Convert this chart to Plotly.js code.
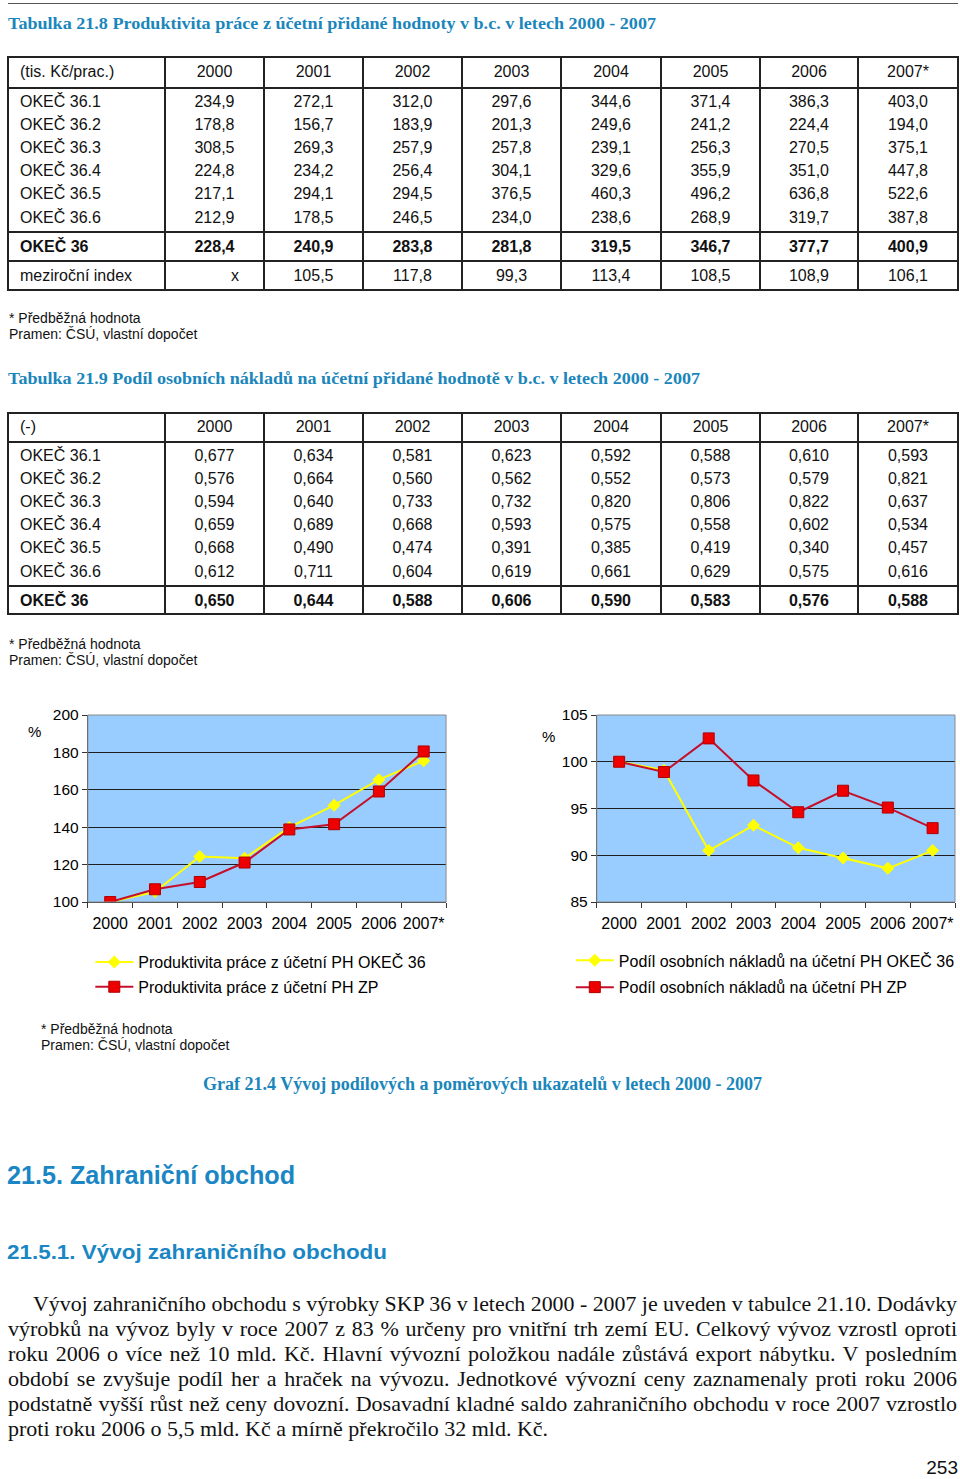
<!DOCTYPE html>
<html><head><meta charset="utf-8">
<script src="https://cdn.plot.ly/plotly-3.0.1.min.js"></script>
<style>
html,body{margin:0;padding:0;background:#fff;}
body{width:960px;height:1479px;position:relative;overflow:hidden;font-family:"Liberation Sans",Arial,sans-serif;color:#111;}
.ab{position:absolute;white-space:nowrap;}
.ln{position:absolute;background:#222;}
.ttl{font-family:"Liberation Serif","Times New Roman",serif;font-weight:bold;color:#1a86bb;font-size:17px;line-height:20px;transform-origin:0 50%;}
.note{font-size:14px;line-height:16px;color:#111;}
.cell{position:absolute;height:20px;line-height:20px;font-size:16px;white-space:nowrap;color:#111;}
.h1{font-weight:bold;color:#1a86c4;font-size:25px;line-height:30px;transform-origin:0 50%;}
.h2{font-weight:bold;color:#1a86c4;font-size:21px;line-height:26px;transform-origin:0 50%;}
.par{font-family:"Liberation Serif","Times New Roman",serif;font-size:22px;line-height:25px;color:#111;transform-origin:0 50%;}
#chart{position:absolute;left:0;top:690px;width:960px;height:320px;}
</style>
</head><body>
<div class="ln" style="left:8px;top:3px;width:950px;height:1px;background:#555"></div>
<div id="chart"></div>
<script>
// ---------- DATA ----------
var years = ['2000','2001','2002','2003','2004','2005','2006','2007*'];
var rowLabels = ['OKEČ 36.1','OKEČ 36.2','OKEČ 36.3','OKEČ 36.4','OKEČ 36.5','OKEČ 36.6'];
var totalLabel = 'OKEČ 36';
var indexLabel = 'meziroční index';

// Tabulka 21.8 (tis. Kč/prac.)
var prod361 = [234.9,272.1,312.0,297.6,344.6,371.4,386.3,403.0];
var prod362 = [178.8,156.7,183.9,201.3,249.6,241.2,224.4,194.0];
var prod363 = [308.5,269.3,257.9,257.8,239.1,256.3,270.5,375.1];
var prod364 = [224.8,234.2,256.4,304.1,329.6,355.9,351.0,447.8];
var prod365 = [217.1,294.1,294.5,376.5,460.3,496.2,636.8,522.6];
var prod366 = [212.9,178.5,246.5,234.0,238.6,268.9,319.7,387.8];
var prodTotal = [228.4,240.9,283.8,281.8,319.5,346.7,377.7,400.9];
var prodIndex = ['x',105.5,117.8,99.3,113.4,108.5,108.9,106.1];

// Tabulka 21.9 (-)
var cost361 = [0.677,0.634,0.581,0.623,0.592,0.588,0.610,0.593];
var cost362 = [0.576,0.664,0.560,0.562,0.552,0.573,0.579,0.821];
var cost363 = [0.594,0.640,0.733,0.732,0.820,0.806,0.822,0.637];
var cost364 = [0.659,0.689,0.668,0.593,0.575,0.558,0.602,0.534];
var cost365 = [0.668,0.490,0.474,0.391,0.385,0.419,0.340,0.457];
var cost366 = [0.612,0.711,0.604,0.619,0.661,0.629,0.575,0.616];
var costTotal = [0.650,0.644,0.588,0.606,0.590,0.583,0.576,0.588];

// Graf 21.4 (%)
var prodOkec36 = [100,105.5,124.3,123.4,139.9,151.8,165.4,175.5];
var prodZP     = [100,106.8,110.7,121.1,138.8,141.6,159.1,180.5];
var costOkec36 = [100,99.1,90.5,93.2,90.8,89.7,88.6,90.5];
var costZP     = [100,98.9,102.5,98.0,94.6,96.9,95.1,92.9];
var legendProd = ['Produktivita práce z účetní PH OKEČ 36','Produktivita práce z účetní PH ZP'];
var legendCost = ['Podíl osobních nákladů na účetní PH OKEČ 36','Podíl osobních nákladů na účetní PH ZP'];

// Texts
var title1 = 'Tabulka 21.8 Produktivita práce z účetní přidané hodnoty v b.c. v letech 2000 - 2007';
var title2 = 'Tabulka 21.9 Podíl osobních nákladů na účetní přidané hodnotě v b.c. v letech 2000 - 2007';
var head1 = '(tis. Kč/prac.)';
var head2 = '(-)';
var note1 = '* Předběžná hodnota';
var note2 = 'Pramen: ČSÚ, vlastní dopočet';
var caption = 'Graf 21.4 Vývoj podílových a poměrových ukazatelů v letech 2000 - 2007';
var heading1 = '21.5. Zahraniční obchod';
var heading2 = '21.5.1. Vývoj zahraničního obchodu';
var paraLines = [
 'Vývoj zahraničního obchodu s výrobky SKP 36 v letech 2000 - 2007 je uveden v tabulce 21.10. Dodávky',
 'výrobků na vývoz byly v roce 2007 z 83 % určeny pro vnitřní trh zemí EU. Celkový vývoz vzrostl oproti',
 'roku 2006 o více než 10 mld. Kč. Hlavní vývozní položkou nadále zůstává export nábytku. V posledním',
 'období se zvyšuje podíl her a hraček na vývozu. Jednotkové vývozní ceny zaznamenaly proti roku 2006',
 'podstatně vyšší růst než ceny dovozní. Dosavadní kladné saldo zahraničního obchodu v roce 2007 vzrostlo',
 'proti roku 2006 o 5,5 mld. Kč a mírně překročilo 32 mld. Kč.'
];
var pageNo = '253';

// ---------- HELPERS ----------
function el(cls, text, left, top, css){
  var d=document.createElement('div'); d.className='ab '+cls; d.textContent=text;
  d.style.left=left+'px'; d.style.top=top+'px'; if(css) d.style.cssText+=css;
  document.body.appendChild(d); return d;
}
function fit(d, target){
  var w=d.getBoundingClientRect().width; if(w>0){ d.style.transform='scaleX('+(target/w)+')'; }
}
function line(x,y,w,h,c){ var d=document.createElement('div'); d.className='ln';
  d.style.left=x+'px'; d.style.top=y+'px'; d.style.width=w+'px'; d.style.height=h+'px'; if(c) d.style.background=c;
  document.body.appendChild(d); }
var colEdges=[8,165,264,363,462,561,661,760,858,958];
function cell(text, j, cy, bold, align){
  var d=document.createElement('div'); d.className='cell'; d.textContent=text;
  var x0=colEdges[j], x1=colEdges[j+1];
  d.style.top=(cy-10)+'px';
  if(align==='left'){ d.style.left=(x0+12)+'px'; }
  else if(align==='right'){ d.style.left=x0+'px'; d.style.width=(x1-x0-25)+'px'; d.style.textAlign='right'; }
  else { d.style.left=x0+'px'; d.style.width=(x1-x0)+'px'; d.style.textAlign='center'; }
  if(bold) d.style.fontWeight='bold';
  document.body.appendChild(d);
}
function fmt(v,dec){ if(typeof v==='string') return v; return v.toFixed(dec).replace('.',','); }
function buildTable(top,bottom,hlines,rows,dec){
  hlines.forEach(function(y){ line(8,y-1,950,2.2); });
  colEdges.forEach(function(x,i){ var w=(i===0||i===colEdges.length-1)?2:1.5; line(x-w/2,top-1,w,bottom-top+2.2); });
  rows.forEach(function(r){
    cell(r.label,0,r.cy,r.bold,'left');
    r.vals.forEach(function(v,j){ cell(fmt(v,dec),j+1,r.cy,r.bold,(v==='x')?'right':'center'); });
  });
}

// ---------- TABLE 21.8 ----------
var tt1=el('ttl',title1,8,14);
var t1body=[prod361,prod362,prod363,prod364,prod365,prod366];
var rows1=[{label:head1,vals:years,cy:72}];
t1body.forEach(function(a,i){ rows1.push({label:rowLabels[i],vals:a,cy:101.5+i*23.2}); });
rows1.push({label:totalLabel,vals:prodTotal,cy:246.5,bold:true});
rows1.push({label:indexLabel,vals:prodIndex,cy:275.5});
buildTable(57,290,[57,88,232,261,290],rows1,1);
el('note',note1,9,310); el('note',note2,9,326);

// ---------- TABLE 21.9 ----------
var tt2=el('ttl',title2,8,369);
var t2body=[cost361,cost362,cost363,cost364,cost365,cost366];
var rows2=[{label:head2,vals:years,cy:427}];
t2body.forEach(function(a,i){ rows2.push({label:rowLabels[i],vals:a,cy:455.5+i*23.2}); });
rows2.push({label:totalLabel,vals:costTotal,cy:600.5,bold:true});
buildTable(413,614,[413,442,586,614],rows2,3);
el('note',note1,9,636); el('note',note2,9,652);

// ---------- notes + caption + headings ----------
el('note',note1,41,1021); el('note',note2,41,1037);
var cap=el('ttl',caption,203,1073,'font-size:18px;line-height:22px;');
fit(tt1,648); fit(tt2,692); fit(cap,559);
var hh1=el('h1',heading1,7,1160); fit(hh1,288);
var hh2=el('h2',heading2,7,1239); fit(hh2,380);

// paragraph
paraLines.forEach(function(s,i){
  var left=(i===0)?33:8, target=957-left;
  var d=el('par',s,left,1290.5+i*25);
  if(i<paraLines.length-1){
    var w=d.getBoundingClientRect().width;
    var spaces=(s.match(/ /g)||[]).length;
    if(w<target){ d.style.wordSpacing=((target-w)/spaces)+'px'; }
    else { d.style.transform='scaleX('+(target/w)+')'; }
  }
});
el('',pageNo,0,1456,'font-size:19px;line-height:24px;width:958px;text-align:right;color:#111;');

// ---------- CHART ----------
var F='Liberation Sans, Arial, sans-serif';
function xax(dom,anchor){ return {domain:dom,anchor:anchor,type:'category',range:[-0.5,7.5],tickson:'boundaries',
  ticks:'outside',ticklen:5,tickcolor:'#333',tickwidth:1,showline:true,linecolor:'#333',linewidth:1,showgrid:false,
  zeroline:false,tickangle:0,tickfont:{family:F,size:16,color:'#000'},ticklabelstandoff:7,fixedrange:true}; }
function yax(range,dtick,anchor){ return {domain:[0.3375,0.921875],anchor:anchor,range:range,dtick:dtick,
  ticks:'outside',ticklen:5,tickcolor:'#333',tickwidth:1,showline:true,linecolor:'#333',linewidth:1,
  showgrid:true,gridcolor:'#1e1e1e',gridwidth:1,zeroline:false,tickfont:{family:F,size:15.5,color:'#000'},fixedrange:true}; }
var yel='#ffff00', redL='#c4102a', redM='#ee0000';
function tr(y,name,isRed,xa,ya,lg,grp){
  return {x:years,y:y,name:name,type:'scatter',mode:'lines+markers',xaxis:xa,yaxis:ya,legend:lg,legendgroup:grp,
    line:{color:isRed?redL:yel,width:2},
    marker:isRed?{symbol:'square',size:11,color:redM,line:{color:'#b00000',width:1}}:{symbol:'diamond',size:10,color:yel}};
}
var data=[
  tr(prodOkec36,legendProd[0],false,'x','y','legend','g1'),
  tr(prodZP,legendProd[1],true,'x','y','legend','g2'),
  tr(costOkec36,legendCost[0],false,'x2','y2','legend2','g3'),
  tr(costZP,legendCost[1],true,'x2','y2','legend2','g4')
];
var lgBase={xanchor:'left',yanchor:'top',bgcolor:'rgba(0,0,0,0)',font:{family:F,size:16,color:'#000'},itemwidth:38,traceorder:'grouped'};
var layout={
  width:960,height:320,margin:{l:0,r:0,t:0,b:0},paper_bgcolor:'rgba(0,0,0,0)',plot_bgcolor:'#99ccff',
  xaxis:xax([88/960,447/960],'y'), yaxis:yax([100,200],20,'x'),
  xaxis2:xax([598/960,957/960],'y2'), yaxis2:yax([85,105],5,'x2'),
  showlegend:true,
  legend:Object.assign({},lgBase,{x:90.5/960,y:0.203,tracegroupgap:1}),
  legend2:Object.assign({},lgBase,{x:572/960,y:0.208,tracegroupgap:3}),
  annotations:[
    {text:'%',xref:'paper',yref:'paper',x:35/960,y:1-42/320,xanchor:'center',yanchor:'middle',showarrow:false,font:{family:F,size:15,color:'#000'}},
    {text:'%',xref:'paper',yref:'paper',x:550/960,y:1-47/320,xanchor:'center',yanchor:'middle',showarrow:false,font:{family:F,size:15,color:'#000'}}
  ],
  shapes:[
    {type:'rect',xref:'x domain',yref:'y domain',x0:0,x1:1,y0:0,y1:1,line:{color:'#8a8a8a',width:1},layer:'above'},
    {type:'rect',xref:'x2 domain',yref:'y2 domain',x0:0,x1:1,y0:0,y1:1,line:{color:'#8a8a8a',width:1},layer:'above'}
  ]
};
Plotly.newPlot('chart',data,layout,{staticPlot:true,displayModeBar:false});
</script>
</body></html>
